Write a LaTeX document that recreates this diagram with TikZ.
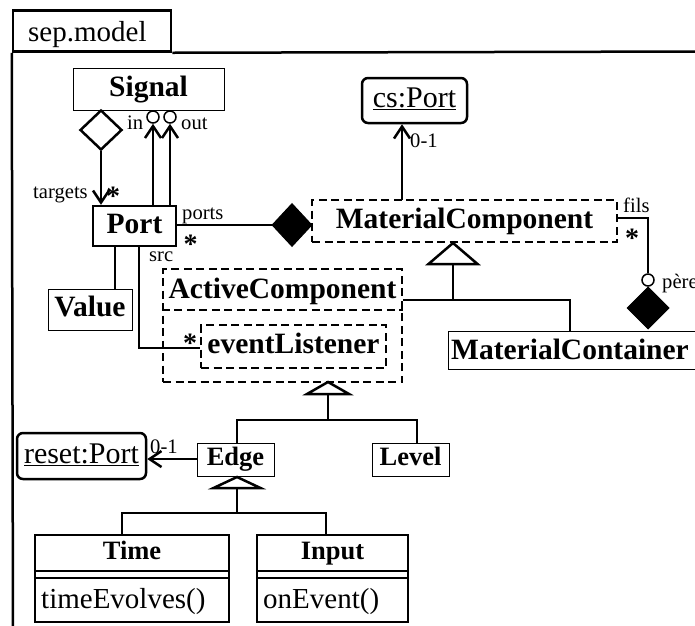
\documentclass[tikz,border=0pt]{standalone}
\usepackage{fontspec}
\setmainfont{Liberation Serif}
\usetikzlibrary{shapes.geometric,arrows.meta}
\begin{document}
\begin{tikzpicture}[x=1pt,y=-1pt,
  conn/.style={line width=2.5pt},
  openarrow/.style={conn,-{Straight Barb[length=12pt,width=16pt]}},
  thinbox/.style={draw, line width=1pt, inner sep=0pt},
  thickbox/.style={draw, line width=2.5pt, inner sep=0pt},
  dashbox/.style={draw, line width=2.5pt, inner sep=0pt, dash pattern=on 8pt off 4.5pt},
  dashline/.style={line width=2.5pt, dash pattern=on 8pt off 4.5pt},
  bname/.style={font=\fontsize{29.5}{30}\selectfont\bfseries, text height=20.6pt, text depth=6.5pt},
  sname/.style={font=\fontsize{26.5}{28}\selectfont\bfseries, text height=18.5pt, text depth=5.8pt},
  rname/.style={font=\fontsize{30}{31}\selectfont, text height=21pt, text depth=6.6pt},
  lbl/.style={font=\fontsize{20.6}{22}\selectfont, inner sep=0pt},
  opname/.style={font=\fontsize{29}{30}\selectfont, inner sep=0pt, anchor=base west},
  star/.style={font=\fontsize{28}{30}\selectfont\bfseries, inner sep=0pt, anchor=base},
  ring/.style={circle, draw, line width=1.5pt, minimum size=12pt, inner sep=0pt, fill=white},
  gentri/.style={conn, fill=white, line join=miter}
]
\useasboundingbox (0,0) rectangle (695,625);

% package frame
\node[thickbox, minimum width=158, minimum height=41] (tab) at (92,31) {};
\node[opname] (tabname) at (28,41) {sep.model};
\coordinate (frameBL) at (13,640);
\coordinate (frameTR) at (705,51.5);
\draw[conn] (tab.south west) -- (frameBL);
\draw[conn] (tab.south east) -- (frameTR);

% classes
\node[thinbox, bname, minimum width=151, minimum height=42] (signal) at (148.5,89) {Signal};
\node[thickbox, bname, minimum width=83, minimum height=40] (port) at (134.5,226) {Port};
\node[thinbox, bname, minimum width=84, minimum height=41] (value) at (90,309.5) {Value};
\node[dashbox, bname, minimum width=305, minimum height=42] (mc) at (464.5,221) {MaterialComponent};
\node[thickbox, rname, rounded corners=6pt, minimum width=105, minimum height=45] (cs) at (414.5,100.5) {\underline{cs:Port}};
\node[dashbox, minimum width=239, minimum height=113] (active) at (282.5,325.5) {};
\node[bname, inner sep=0pt] (activename) at (282.5,291) {ActiveComponent};
\coordinate (adiv) at (0,310);
\draw[dashline] (active.west |- adiv) -- (active.east |- adiv);
\node[dashbox, bname, minimum width=185, minimum height=43] (evl) at (293.5,346.5) {eventListener};
\node[thinbox, minimum width=257, minimum height=38] (container) at (576.5,350) {};
\node[bname, inner sep=0pt, anchor=base west] (containername) at (451,359) {MaterialContainer};
\node[thinbox, sname, minimum width=77, minimum height=33] (edge) at (235.5,459.5) {Edge};
\node[thinbox, sname, minimum width=77, minimum height=33] (level) at (410.5,459.5) {Level};
\node[thickbox, rname, rounded corners=6pt, minimum width=129, minimum height=46] (reset) at (81.5,456) {\underline{reset:Port}};

% Time and Input classes
\node[thickbox, minimum width=194, minimum height=87] (time) at (132,578.5) {};
\node[sname, inner sep=0pt] (timename) at (132,553) {Time};
\node[opname] (timeop) at (41,608) {timeEvolves()};
\node[thickbox, minimum width=151, minimum height=87] (input) at (332.5,578.5) {};
\node[sname, inner sep=0pt] (inputname) at (332.5,553) {Input};
\node[opname] (inputop) at (263,608) {onEvent()};
\coordinate (cdiv1) at (0,571);
\coordinate (cdiv2) at (0,578);
\draw[conn] (time.west |- cdiv1) -- (time.east |- cdiv1);
\draw[conn] (time.west |- cdiv2) -- (time.east |- cdiv2);
\draw[conn] (input.west |- cdiv1) -- (input.east |- cdiv1);
\draw[conn] (input.west |- cdiv2) -- (input.east |- cdiv2);

% association ends
\node[diamond, draw, line width=2.5pt, minimum width=42, minimum height=40, inner sep=0pt] (sigdia) at (101,130) {};
\node[diamond, draw, fill=black, line width=1pt, minimum width=40, minimum height=43, inner sep=0pt] (portsdia) at (292,225) {};
\node[diamond, draw, fill=black, line width=1pt, minimum width=42, minimum height=42, inner sep=0pt] (peredia) at (648,308) {};
\node[ring] (incirc) at (153,117) {};
\node[ring] (outcirc) at (170,117) {};
\node[ring] (perecirc) at (648,280) {};

% connectors
\draw[openarrow] (sigdia.south) -- (port.north -| sigdia.south);
\draw[openarrow] (port.north -| incirc) -- (incirc.south);
\draw[openarrow] (port.north -| outcirc) -- (outcirc.south);
\draw[conn] (port.east |- portsdia.west) -- (portsdia.west);
\coordinate (csfoot) at (402,200);
\draw[openarrow] (csfoot) -- (csfoot |- cs.south);
\coordinate (filsbend) at (648,218);
\draw[conn] (filsbend -| mc.east) -- (filsbend) -- (perecirc.north);
\coordinate (srcbend) at (139,348);
\draw[conn] (port.south -| srcbend) -- (srcbend) -- (srcbend -| evl.west);
\coordinate (valx) at (115,0);
\draw[conn] (port.south -| valx) -- (value.north -| valx);
\coordinate (resety) at (0,459);
\draw[openarrow] (edge.west |- resety) -- (reset.east |- resety);

% generalization MaterialComponent
\coordinate (g1) at (453,243);
\coordinate (g1j) at (453,300);
\coordinate (g1r) at (570,300);
\draw[conn] (g1) ++(0,21) -- (g1j);
\draw[conn] (active.east |- g1j) -- (g1r) -- (g1r |- container.north);
\draw[gentri] (g1) -- ++(-24.5,21) -- ++(49,0) -- cycle;

% generalization ActiveComponent
\coordinate (g2) at (328,382);
\coordinate (g2j) at (328,420);
\coordinate (g2l) at (237,420);
\coordinate (g2r) at (417,420);
\draw[conn] (g2) ++(0,12) -- (g2j);
\draw[conn] (g2l |- edge.north) -- (g2l) -- (g2r) -- (g2r |- level.north);
\draw[gentri] (g2) -- ++(-21,12) -- ++(42,0) -- cycle;

% generalization Edge
\coordinate (g3) at (237,477);
\coordinate (g3j) at (237,513);
\coordinate (g3l) at (122,513);
\coordinate (g3r) at (326,513);
\draw[conn] (g3) ++(0,11) -- (g3j);
\draw[conn] (g3l |- time.north) -- (g3l) -- (g3r) -- (g3r |- input.north);
\draw[gentri] (g3) -- ++(-23.5,11) -- ++(47,0) -- cycle;

% labels
\node[lbl, anchor=base west] (ltargets) at (33,198) {targets};
\node[star] (stargets) at (113,205) {*};
\node[lbl, anchor=base west] (lin) at (127,129) {in};
\node[lbl, anchor=base west] (lout) at (181,129) {out};
\node[lbl, anchor=base west] (lports) at (182,219) {ports};
\node[star] (sports) at (190.5,253) {*};
\node[lbl, anchor=base west] (lsrc) at (149,261) {src};
\node[star] (ssrc) at (190,352) {*};
\node[lbl, anchor=base west] (lcs) at (410,147) {0-1};
\node[lbl, anchor=base west] (lfils) at (623,212) {fils};
\node[star] (sfils) at (632,247) {*};
\node[lbl, anchor=base west] (lpere) at (662,288) {père};
\node[lbl, anchor=base west] (lreset) at (150,453) {0-1};
\end{tikzpicture}
\end{document}
